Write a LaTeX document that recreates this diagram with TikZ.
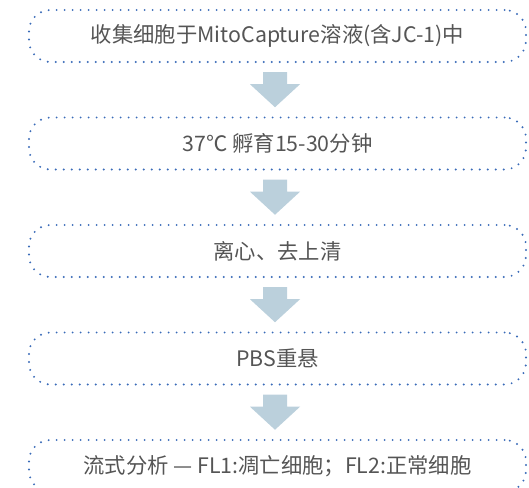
\documentclass[tikz,border=0pt]{standalone}
\usepackage{fontspec}
\setmainfont{Noto Sans CJK SC}
\usetikzlibrary{calc}
\definecolor{dotblue}{HTML}{3A6BB8}
\definecolor{txtgray}{HTML}{555555}
\definecolor{arrowblue}{HTML}{BBD0DC}
\tikzset{
  stepbox/.style={draw=dotblue, line width=1.6pt, line cap=round,
    dash pattern=on 0pt off 6pt, rounded corners=16pt,
    minimum width=372.75pt, minimum height=39pt, inner sep=0pt,
    text=txtgray, font=\fontsize{16pt}{18pt}\selectfont},
  blockarrow/.style={fill=arrowblue, draw=none}
}
\begin{document}
\begin{tikzpicture}[x=0.75pt,y=-0.75pt]
\useasboundingbox (0,0) rectangle (529,488);
\clip (0,0) rectangle (529,488);
\node[stepbox] (b1) at (277.5,36) {收集细胞于MitoCapture溶液(含JC-1)中};
\node[stepbox] (b2) at (277.5,143.5) {37℃ 孵育15-30分钟};
\node[stepbox] (b3) at (277.5,251) {离心、去上清};
\node[stepbox] (b4) at (277.5,358.5) {PBS重悬};
\node[stepbox] (b5) at (277.5,466) {流式分析 — FL1:凋亡细胞；FL2:正常细胞};
\foreach \a/\b in {b1/b2,b2/b3,b3/b4,b4/b5}{
  \coordinate (m) at ($(\a.south)!0.5!(\b.north)+(-2.5,0)$);
  \fill[blockarrow] ($(m)+(-12,-17.5)$) -- ($(m)+(12,-17.5)$) -- ($(m)+(12,-5.5)$)
    -- ($(m)+(25,-5.5)$) -- ($(m)+(0,17.5)$) -- ($(m)+(-25,-5.5)$)
    -- ($(m)+(-12,-5.5)$) -- cycle;
}
\end{tikzpicture}
\end{document}
